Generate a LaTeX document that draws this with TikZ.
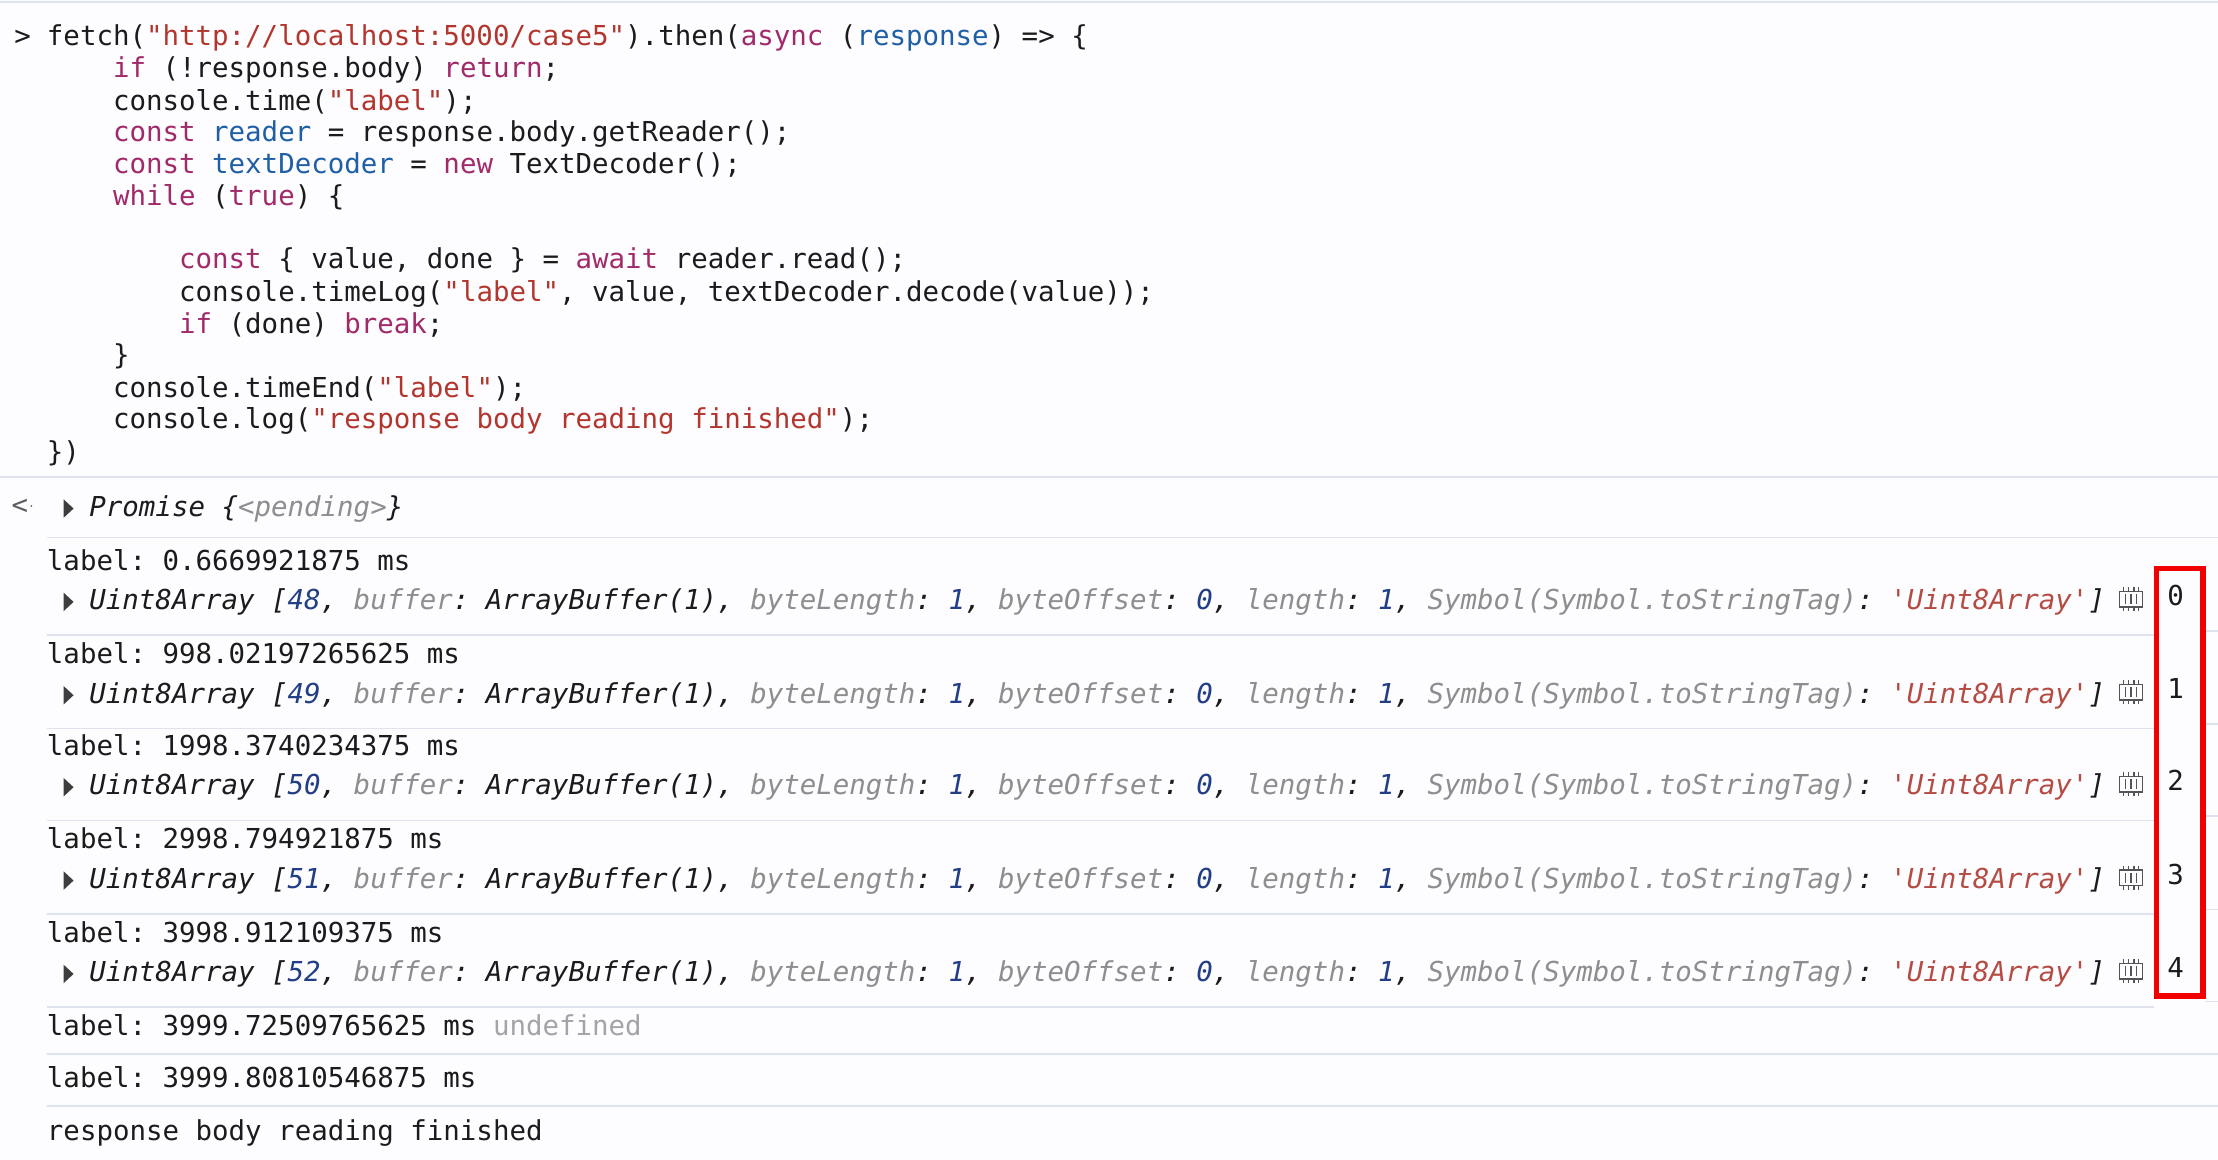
\documentclass[tikz,border=0pt]{standalone}
\usepackage{fontspec}
\setmonofont{DejaVu Sans Mono}
\definecolor{bg}{HTML}{FDFCFE}
\definecolor{sep}{HTML}{DEE3EE}
\definecolor{kw}{HTML}{A12A69}
\definecolor{st}{HTML}{B2362D}
\definecolor{vr}{HTML}{1E5FA6}
\definecolor{gr}{HTML}{8E8E8E}
\definecolor{nm}{HTML}{213E86}
\definecolor{ostr}{HTML}{B54C44}
\definecolor{txt}{HTML}{1B1B1B}
\definecolor{boxred}{HTML}{F20000}
\newcommand{\kw}[1]{\textcolor{kw}{#1}}
\newcommand{\st}[1]{\textcolor{st}{#1}}
\newcommand{\vr}[1]{\textcolor{vr}{#1}}
\newcommand{\gr}[1]{\textcolor{gr}{#1}}
\newcommand{\nm}[1]{\textcolor{nm}{#1}}
\newcommand{\uline}[1]{Uint8Array [\nm{#1}, \gr{buffer}: ArrayBuffer(1), \gr{byteLength}: \nm{1}, \gr{byteOffset}: \nm{0}, \gr{length}: \nm{1}, \gr{Symbol(Symbol.toStringTag)}: \textcolor{ostr}{'Uint8Array'}]}
\tikzset{
  ln/.style={anchor=base west,inner sep=0pt,text=txt,font=\fontsize{19.4}{22}\selectfont\ttfamily},
  il/.style={ln,font=\fontsize{19.4}{22}\selectfont\ttfamily\itshape},
  sepl/.style={draw=sep,line width=1.2pt},
  tri/.style={fill=txt!85,draw=none},
  chip/.style={draw=txt!75,line width=1.1pt},
}
\begin{document}
\begin{tikzpicture}[x=1pt,y=-1pt]
\useasboundingbox (0,0) rectangle (1568,820);
\fill[bg] (0,0) rectangle (1568,820);
\draw[sepl] (0,1.5) -- (1568,1.5);
% prompt
\node[ln] (pr) at (10,32) {>};
\node[ln] (c1) at (33,32) {fetch(\st{"http://localhost:5000/case5"}).then(\kw{async} (\vr{response}) => \{};
\node[ln] (c2) at (33,55) {\phantom{xxxx}\kw{if} (!response.body) \kw{return};};
\node[ln] (c3) at (33,78) {\phantom{xxxx}console.time(\st{"label"});};
\node[ln] (c4) at (33,100) {\phantom{xxxx}\kw{const} \vr{reader} = response.body.getReader();};
\node[ln] (c5) at (33,123) {\phantom{xxxx}\kw{const} \vr{textDecoder} = \kw{new} TextDecoder();};
\node[ln] (c6) at (33,145) {\phantom{xxxx}\kw{while} (\kw{true}) \{};
\node[ln] (c8) at (33,190) {\phantom{xxxxxxxx}\kw{const} \{ value, done \} = \kw{await} reader.read();};
\node[ln] (c9) at (33,213) {\phantom{xxxxxxxx}console.timeLog(\st{"label"}, value, textDecoder.decode(value));};
\node[ln] (c10) at (33,236) {\phantom{xxxxxxxx}\kw{if} (done) \kw{break};};
\node[ln] (c11) at (33,258) {\phantom{xxxx}\}};
\node[ln] (c12) at (33,281) {\phantom{xxxx}console.timeEnd(\st{"label"});};
\node[ln] (c13) at (33,303) {\phantom{xxxx}console.log(\st{"response body reading finished"});};
\node[ln] (c14) at (33,326) {\})};
\draw[sepl] (0,337) -- (1568,337);
% result
\node[ln,text=txt!70] (ret) at (8,364) {<\raisebox{3pt}{\fontsize{8}{8}\selectfont·}};
\fill[tri] (45,353) -- (52,359.5) -- (45,366) -- cycle;
\node[il] (prom) at (63,365) {Promise \{\gr{<pending>}\}};
\draw[sepl] (33,380) -- (1568,380);
% entries
\foreach \i/\yl/\yu/\lab/\num in {0/403/431/0.6669921875/48,1/469/497/998.02197265625/49,2/534/562/1998.3740234375/50,3/600/628/2998.794921875/51,4/666/694/3998.912109375/52}{
  \node[ln] (lab\i) at (33,\yl) {label: \lab\ ms};
  \fill[tri] (45,\yu-12) -- (52,\yu-5.5) -- (45,\yu+1) -- cycle;
  \node[il] (arr\i) at (63,\yu) {\uline{\num}};
  \draw[chip] (1498.5,\yu-13) rectangle (1514.5,\yu-2);
  \foreach \cx in {1502.5,1506.5,1510.5}{\draw[chip,line width=0.9pt] (\cx,\yu-11) -- (\cx,\yu-4);}
  \foreach \cx in {1501,1504.5,1508.5,1512}{\draw[chip,line width=0.9pt] (\cx,\yu-16) -- (\cx,\yu-13) (\cx,\yu-2) -- (\cx,\yu+1);}
  \node[ln] (n\i) at (1532,\yu-3) {\i};
  \draw[sepl] (33,\yu+18) -- (1523,\yu+18);
}
\draw[sepl] (1559,446) -- (1568,446) (1559,512) -- (1568,512) (1559,577) -- (1568,577) (1559,643) -- (1568,643);
\draw[sepl] (1559,708) -- (1568,708);
\draw[boxred,line width=4pt] (1524.5,402) rectangle (1557.5,704);
\node[ln] (u) at (33,732) {label: 3999.72509765625 ms \textcolor{gr!80}{undefined}};
\draw[sepl] (33,745) -- (1568,745);
\node[ln] (l6) at (33,769) {label: 3999.80810546875 ms};
\draw[sepl] (33,782) -- (1568,782);
\node[ln] (fin) at (33,806) {response body reading finished};
\end{tikzpicture}
\end{document}
